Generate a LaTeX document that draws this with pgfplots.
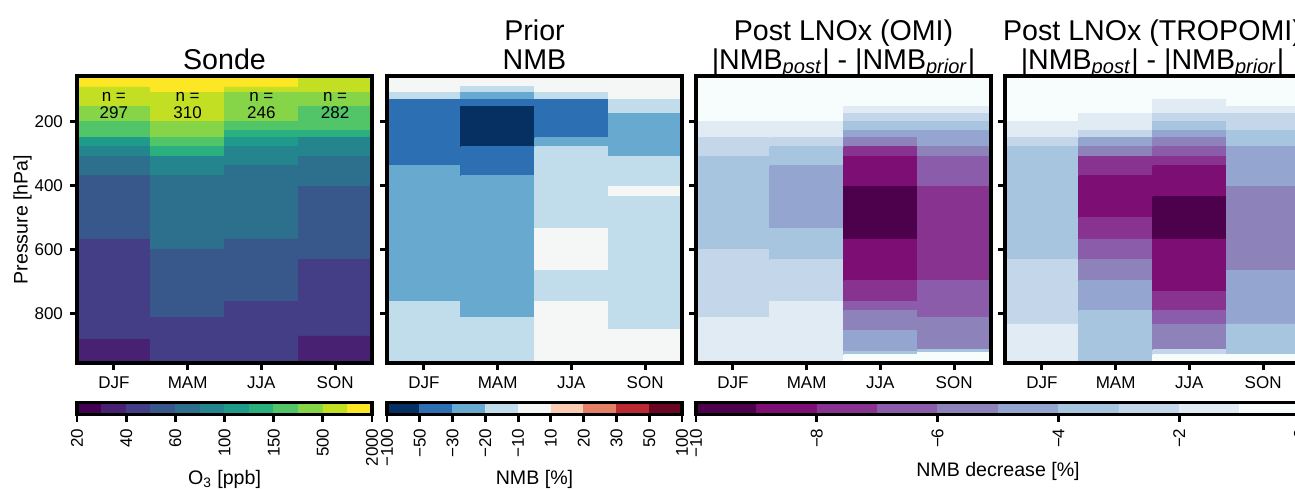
\documentclass[border=0pt]{standalone}
\usepackage{pgfplots}
\pgfplotsset{compat=1.18}
\usepackage{fontspec}
\setmainfont{Liberation Sans}
% viridis (12 bins)
\definecolor{v0}{HTML}{440154}\definecolor{v1}{HTML}{482173}\definecolor{v2}{HTML}{433E85}
\definecolor{v3}{HTML}{38588C}\definecolor{v4}{HTML}{2D708E}\definecolor{v5}{HTML}{25858E}
\definecolor{v6}{HTML}{1E9B8A}\definecolor{v7}{HTML}{2AB07F}\definecolor{v8}{HTML}{52C569}
\definecolor{v9}{HTML}{86D549}\definecolor{v10}{HTML}{C2DF23}\definecolor{v11}{HTML}{FDE725}
% RdBu_r (9 bins)
\definecolor{r0}{HTML}{053061}\definecolor{r1}{HTML}{2C6FB2}\definecolor{r2}{HTML}{67A9CF}
\definecolor{r3}{HTML}{C1DCEA}\definecolor{r4}{HTML}{F5F6F6}\definecolor{r5}{HTML}{FBCCB4}
\definecolor{r6}{HTML}{E48066}\definecolor{r7}{HTML}{BB2933}\definecolor{r8}{HTML}{6A0624}
% BuPu_r (10 bins)
\definecolor{b0}{HTML}{4D004B}\definecolor{b1}{HTML}{7D0E74}\definecolor{b2}{HTML}{87338F}
\definecolor{b3}{HTML}{8B5CA9}\definecolor{b4}{HTML}{8E82BB}\definecolor{b5}{HTML}{94A6CF}
\definecolor{b6}{HTML}{A8C5E0}\definecolor{b7}{HTML}{C4D7EA}\definecolor{b8}{HTML}{E0EBF4}
\definecolor{b9}{HTML}{F7FCFD}
% one cell: x0, x1, y0, y1, colour
\newcommand{\cell}[5]{\addplot[draw=#5, fill=#5, line width=0.3pt, mark=none]
  coordinates {(#1,#3) (#2,#3) (#2,#4) (#1,#4) (#1,#3)};}
\pgfplotsset{
  common/.style={scale only axis, axis on top, tick align=outside, tick pos=left,
    major tick length=3.5pt, tick style={black, line width=1.4pt},
    ticklabel style={font=\fontsize{8.5}{9}\selectfont},
    label style={font=\fontsize{9.8}{11}\selectfont}},
  panel/.style={common, width=147.5pt, height=143.5pt, anchor=south west,
    axis line style={line width=1.6pt},
    xmin=0, xmax=4, ymin=57, ymax=954, y dir=reverse,
    xtick={0.5,1.5,2.5,3.5}, xticklabels={DJF,MAM,JJA,SON},
    ytick={200,400,600,800},
    title style={at={(0.5,1)}, anchor=south, yshift=-2.8pt, inner sep=0pt,
      text depth=0pt, align=center, font=\fontsize{14.3}{14.5}\selectfont},
    ylabel style={at={(axis description cs:-0.1525,0.5)}, anchor=south,
      inner sep=0pt}},
  cbar/.style={common, height=6pt, anchor=south west, ymin=0, ymax=1, ytick=\empty,
    axis line style={line width=1.7pt},
    xticklabel style={rotate=90, anchor=east}},
}
\begin{document}
\begin{tikzpicture}
\useasboundingbox (0,0) rectangle (647.5pt,244.5pt);
\clip (0,0) rectangle (647.5pt,244.5pt);
% ---------------- Sonde
\begin{axis}[panel, at={(38.5pt,63pt)}, title={Sonde}, ylabel={Pressure [hPa]},
  yticklabels={200,400,600,800}]
\cell{0}{1}{57}{91}{v11}\cell{0}{1}{91}{153}{v10}\cell{0}{1}{153}{198}{v9}
\cell{0}{1}{198}{250}{v8}\cell{0}{1}{250}{278}{v6}\cell{0}{1}{278}{307}{v5}
\cell{0}{1}{307}{368}{v4}\cell{0}{1}{368}{566}{v3}\cell{0}{1}{566}{881}{v2}
\cell{0}{1}{881}{954}{v1}
\cell{1}{2}{57}{108}{v11}\cell{1}{2}{108}{198}{v10}\cell{1}{2}{198}{250}{v9}
\cell{1}{2}{250}{278}{v8}\cell{1}{2}{278}{307}{v7}\cell{1}{2}{307}{368}{v5}
\cell{1}{2}{368}{598}{v4}\cell{1}{2}{598}{811}{v3}\cell{1}{2}{811}{954}{v2}
\cell{2}{3}{57}{91}{v11}\cell{2}{3}{91}{108}{v10}\cell{2}{3}{108}{198}{v9}
\cell{2}{3}{198}{226}{v8}\cell{2}{3}{226}{250}{v7}\cell{2}{3}{250}{278}{v6}
\cell{2}{3}{278}{337}{v5}\cell{2}{3}{337}{566}{v4}\cell{2}{3}{566}{761}{v3}
\cell{2}{3}{761}{954}{v2}
\cell{3}{4}{57}{108}{v10}\cell{3}{4}{108}{153}{v9}\cell{3}{4}{153}{226}{v8}
\cell{3}{4}{226}{250}{v7}\cell{3}{4}{250}{307}{v5}\cell{3}{4}{307}{401}{v4}
\cell{3}{4}{401}{631}{v3}\cell{3}{4}{631}{869}{v2}\cell{3}{4}{869}{954}{v1}
\node[align=center, font=\fontsize{8.5}{8.7}\selectfont, inner sep=0pt] at (axis cs:0.5,149) {n =\\297};
\node[align=center, font=\fontsize{8.5}{8.7}\selectfont, inner sep=0pt] at (axis cs:1.5,149) {n =\\310};
\node[align=center, font=\fontsize{8.5}{8.7}\selectfont, inner sep=0pt] at (axis cs:2.5,149) {n =\\246};
\node[align=center, font=\fontsize{8.5}{8.7}\selectfont, inner sep=0pt] at (axis cs:3.5,149) {n =\\282};
\end{axis}
% ---------------- Prior NMB
\begin{axis}[panel, at={(193.5pt,63pt)}, title={Prior\\NMB}, yticklabels={}]
\cell{0}{1}{57}{108}{r4}\cell{0}{1}{108}{130}{r3}\cell{0}{1}{130}{337}{r1}
\cell{0}{1}{337}{761}{r2}\cell{0}{1}{761}{954}{r3}
\cell{1}{2}{57}{89}{r4}\cell{1}{2}{89}{108}{r3}\cell{1}{2}{108}{130}{r2}
\cell{1}{2}{130}{151}{r1}\cell{1}{2}{151}{278}{r0}\cell{1}{2}{278}{368}{r1}
\cell{1}{2}{368}{811}{r2}\cell{1}{2}{811}{954}{r3}
\cell{2}{3}{57}{108}{r4}\cell{2}{3}{108}{130}{r3}\cell{2}{3}{130}{250}{r1}
\cell{2}{3}{250}{278}{r2}\cell{2}{3}{278}{533}{r3}\cell{2}{3}{533}{664}{r4}
\cell{2}{3}{664}{761}{r3}\cell{2}{3}{761}{954}{r4}
\cell{3}{4}{57}{130}{r4}\cell{3}{4}{130}{174}{r3}\cell{3}{4}{174}{307}{r2}
\cell{3}{4}{307}{401}{r3}\cell{3}{4}{401}{434}{r4}\cell{3}{4}{434}{850}{r3}
\cell{3}{4}{850}{954}{r4}
\end{axis}
% ---------------- Post LNOx (OMI)
\begin{axis}[panel, at={(348pt,63pt)}, yticklabels={},
  title={Post LNOx (OMI)\\|NMB\textsubscript{\textit{post}}| - |NMB\textsubscript{\textit{prior}}|}]
\cell{0}{1}{57}{198}{b9}\cell{0}{1}{198}{250}{b8}\cell{0}{1}{250}{307}{b7}
\cell{0}{1}{307}{598}{b6}\cell{0}{1}{598}{811}{b7}\cell{0}{1}{811}{954}{b8}
\cell{1}{2}{57}{198}{b9}\cell{1}{2}{198}{250}{b8}\cell{1}{2}{250}{278}{b7}
\cell{1}{2}{278}{337}{b6}\cell{1}{2}{337}{533}{b5}\cell{1}{2}{533}{631}{b6}
\cell{1}{2}{631}{761}{b7}\cell{1}{2}{761}{954}{b8}
\cell{2}{3}{57}{151}{b9}\cell{2}{3}{151}{174}{b8}\cell{2}{3}{174}{198}{b7}
\cell{2}{3}{198}{226}{b6}\cell{2}{3}{226}{250}{b5}\cell{2}{3}{250}{278}{b4}
\cell{2}{3}{278}{307}{b2}\cell{2}{3}{307}{401}{b1}\cell{2}{3}{401}{566}{b0}
\cell{2}{3}{566}{697}{b1}\cell{2}{3}{697}{761}{b2}\cell{2}{3}{761}{790}{b3}
\cell{2}{3}{790}{852}{b4}\cell{2}{3}{852}{917}{b5}\cell{2}{3}{917}{928}{b6}
\cell{2}{3}{928}{954}{b9}
\cell{3}{4}{57}{151}{b9}\cell{3}{4}{151}{174}{b8}\cell{3}{4}{174}{198}{b7}
\cell{3}{4}{198}{226}{b6}\cell{3}{4}{226}{278}{b5}\cell{3}{4}{278}{307}{b4}
\cell{3}{4}{307}{401}{b3}\cell{3}{4}{401}{697}{b2}\cell{3}{4}{697}{811}{b3}
\cell{3}{4}{811}{912}{b4}\cell{3}{4}{912}{920}{b6}\cell{3}{4}{920}{954}{b9}
\end{axis}
% ---------------- Post LNOx (TROPOMI)
\begin{axis}[panel, at={(502.5pt,63pt)}, yticklabels={},
  title={Post LNOx (TROPOMI)\\|NMB\textsubscript{\textit{post}}| - |NMB\textsubscript{\textit{prior}}|}]
\cell{0}{1}{57}{198}{b9}\cell{0}{1}{198}{250}{b8}\cell{0}{1}{250}{278}{b7}
\cell{0}{1}{278}{631}{b6}\cell{0}{1}{631}{832}{b7}\cell{0}{1}{832}{954}{b8}
\cell{1}{2}{57}{174}{b9}\cell{1}{2}{174}{226}{b8}\cell{1}{2}{226}{250}{b7}
\cell{1}{2}{250}{278}{b5}\cell{1}{2}{278}{307}{b4}\cell{1}{2}{307}{368}{b2}
\cell{1}{2}{368}{500}{b1}\cell{1}{2}{500}{566}{b2}\cell{1}{2}{566}{631}{b3}
\cell{1}{2}{631}{697}{b4}\cell{1}{2}{697}{790}{b5}\cell{1}{2}{790}{954}{b6}
\cell{2}{3}{57}{130}{b9}\cell{2}{3}{130}{174}{b8}\cell{2}{3}{174}{198}{b7}
\cell{2}{3}{198}{226}{b6}\cell{2}{3}{226}{250}{b5}\cell{2}{3}{250}{278}{b4}
\cell{2}{3}{278}{307}{b3}\cell{2}{3}{307}{337}{b2}\cell{2}{3}{337}{434}{b1}
\cell{2}{3}{434}{566}{b0}\cell{2}{3}{566}{730}{b1}\cell{2}{3}{730}{790}{b2}
\cell{2}{3}{790}{832}{b3}\cell{2}{3}{832}{912}{b4}\cell{2}{3}{912}{928}{b7}
\cell{2}{3}{928}{954}{b9}
\cell{3}{4}{57}{151}{b9}\cell{3}{4}{151}{174}{b8}\cell{3}{4}{174}{226}{b7}
\cell{3}{4}{226}{278}{b6}\cell{3}{4}{278}{401}{b5}\cell{3}{4}{401}{664}{b4}
\cell{3}{4}{664}{832}{b5}\cell{3}{4}{832}{928}{b6}\cell{3}{4}{928}{954}{b9}
\end{axis}
% ---------------- colour bars
\begin{axis}[cbar, at={(38.5pt,37.25pt)}, width=147.5pt, xmin=0, xmax=12,
  xtick={0,2,4,6,8,10,12}, xticklabels={20,40,60,100,150,500,2000},
  xlabel={O\textsubscript{3} [ppb]},
  xlabel style={at={(axis description cs:0.5,0)}, anchor=base, yshift=-34.9pt}]
\cell{0}{1}{0}{1}{v0}\cell{1}{2}{0}{1}{v1}\cell{2}{3}{0}{1}{v2}\cell{3}{4}{0}{1}{v3}
\cell{4}{5}{0}{1}{v4}\cell{5}{6}{0}{1}{v5}\cell{6}{7}{0}{1}{v6}\cell{7}{8}{0}{1}{v7}
\cell{8}{9}{0}{1}{v8}\cell{9}{10}{0}{1}{v9}\cell{10}{11}{0}{1}{v10}\cell{11}{12}{0}{1}{v11}
\end{axis}
\begin{axis}[cbar, at={(193.5pt,37.25pt)}, width=147.5pt, xmin=0, xmax=9,
  xtick={0,1,2,3,4,5,6,7,8,9}, xticklabels={−100,−50,−30,−20,−10,10,20,30,50,100},
  xlabel={NMB [\%]},
  xlabel style={at={(axis description cs:0.5,0)}, anchor=base, yshift=-34.9pt}]
\cell{0}{1}{0}{1}{r0}\cell{1}{2}{0}{1}{r1}\cell{2}{3}{0}{1}{r2}\cell{3}{4}{0}{1}{r3}
\cell{4}{5}{0}{1}{r4}\cell{5}{6}{0}{1}{r5}\cell{6}{7}{0}{1}{r6}\cell{7}{8}{0}{1}{r7}
\cell{8}{9}{0}{1}{r8}
\end{axis}
\begin{axis}[cbar, at={(348pt,37.25pt)}, width=302pt, xmin=0, xmax=10,
  xtick={0,2,4,6,8,10}, xticklabels={−10,−8,−6,−4,−2,0},
  xlabel={NMB decrease [\%]},
  xlabel style={at={(axis description cs:0.5,0)}, anchor=base, yshift=-30.75pt}]
\cell{0}{1}{0}{1}{b0}\cell{1}{2}{0}{1}{b1}\cell{2}{3}{0}{1}{b2}\cell{3}{4}{0}{1}{b3}
\cell{4}{5}{0}{1}{b4}\cell{5}{6}{0}{1}{b5}\cell{6}{7}{0}{1}{b6}\cell{7}{8}{0}{1}{b7}
\cell{8}{9}{0}{1}{b8}\cell{9}{10}{0}{1}{b9}
\end{axis}
\end{tikzpicture}
\end{document}
